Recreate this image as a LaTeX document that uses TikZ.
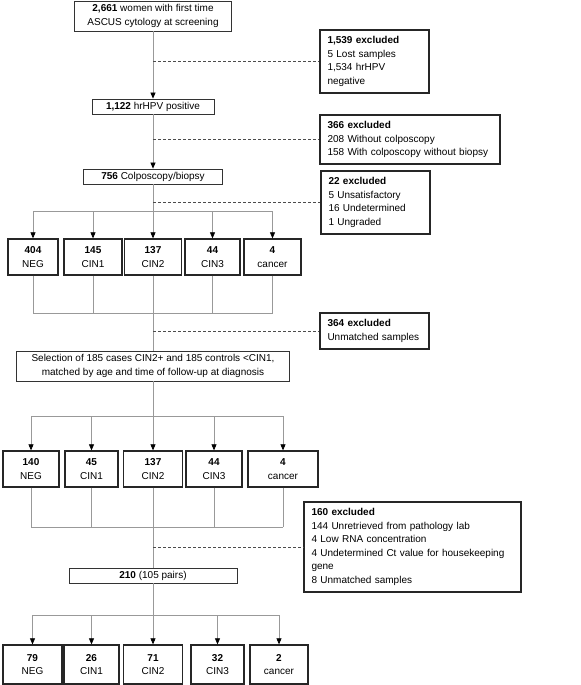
\documentclass[tikz,border=0pt]{standalone}
\usepackage{fontspec}
\setmainfont{Liberation Sans}
\usetikzlibrary{arrows.meta}

\begin{document}
\begin{tikzpicture}[x=1bp,y=-1bp,
  every node/.style={font=\fontsize{10bp}{13.5bp}\selectfont,inner sep=0pt},
  flowbox/.style={draw=black!80,line width=0.8pt,minimum height=15bp,align=center},
  gradebox/.style={draw=black!85,line width=1.3pt,minimum height=36bp,align=center},
  exclbox/.style={draw=black!85,line width=1.3pt,align=left,inner xsep=7.5bp},
  link/.style={draw=black!40,line width=0.7pt},
  arr/.style={link,-{Triangle[width=5bp,length=6bp,color=black]}},
  excl/.style={draw=black!70,line width=0.6pt,dash pattern=on 3bp off 2bp}]
\fill[white] (0,0) rectangle (581,685);
\useasboundingbox (0,0) rectangle (581,685);
% main column
\node[flowbox,minimum width=157bp,minimum height=30bp] (top) at (153,16) {\textbf{2,661} women with first time\\ASCUS cytology at screening};
\node[flowbox,minimum width=122bp] (hpv) at (153,106.5) {\textbf{1,122} hrHPV positive};
\node[flowbox,minimum width=139bp] (colpo) at (153,176.5) {\textbf{756} Colposcopy/biopsy};
\node[flowbox,minimum width=273bp,minimum height=30bp] (sel) at (153,366) {Selection of 185 cases CIN2+ and 185 controls <CIN1,\\matched by age and time of follow-up at diagnosis};
\node[flowbox,minimum width=168bp] (pairs) at (153,575.5) {\textbf{210} (105 pairs)};
% excluded
\node[exclbox,text width=94bp,minimum height=63bp] (ex1) at (374.5,61.5) {\textbf{1,539 excluded}\\5 Lost samples\\1,534 hrHPV\\negative};
\node[exclbox,text width=165bp,minimum height=49bp] (ex2) at (410,139.5) {\textbf{366 excluded}\\208 Without colposcopy\\158 With colposcopy without biopsy};
\node[exclbox,text width=94bp,minimum height=63bp] (ex3) at (375.5,202.5) {\textbf{22 excluded}\\5 Unsatisfactory\\16 Undetermined\\1 Ungraded};
\node[exclbox,text width=94bp,minimum height=36bp] (ex4) at (374.5,331) {\textbf{364 excluded}\\Unmatched samples};
\node[exclbox,text width=202bp,minimum height=90bp] (ex5) at (412.5,547) {\textbf{160 excluded}\\144 Unretrieved from pathology lab\\4 Low RNA concentration\\4 Undetermined Ct value for housekeeping\\gene\\8 Unmatched samples};
% first grading
\node[gradebox,minimum width=50bp] (a1) at (33,257) {\textbf{404}\\NEG};
\node[gradebox,minimum width=58bp] (a2) at (93,257) {\textbf{145}\\CIN1};
\node[gradebox,minimum width=57bp] (a3) at (153,257) {\textbf{137}\\CIN2};
\node[gradebox,minimum width=55bp] (a4) at (212.5,257) {\textbf{44}\\CIN3};
\node[gradebox,minimum width=57bp] (a5) at (272.5,257) {\textbf{4}\\cancer};
% matched
\node[gradebox,minimum width=56bp] (b1) at (31,469) {\textbf{140}\\NEG};
\node[gradebox,minimum width=53bp] (b2) at (91.5,469) {\textbf{45}\\CIN1};
\node[gradebox,minimum width=59bp] (b3) at (153,469) {\textbf{137}\\CIN2};
\node[gradebox,minimum width=56bp] (b4) at (214,469) {\textbf{44}\\CIN3};
\node[gradebox,minimum width=70bp] (b5) at (283,469) {\textbf{4}\\cancer};
% analysed
\node[gradebox,minimum width=59bp,minimum height=39bp] (c1) at (32.5,664.5) {\textbf{79}\\NEG};
\node[gradebox,minimum width=55bp,minimum height=39bp] (c2) at (91.5,664.5) {\textbf{26}\\CIN1};
\node[gradebox,minimum width=59bp,minimum height=39bp] (c3) at (153,664.5) {\textbf{71}\\CIN2};
\node[gradebox,minimum width=53bp,minimum height=39bp] (c4) at (217.5,664.5) {\textbf{32}\\CIN3};
\node[gradebox,minimum width=58bp,minimum height=39bp] (c5) at (279,664.5) {\textbf{2}\\cancer};
\coordinate (split1) at (153,211);
\coordinate (merge1) at (153,313);
\coordinate (split2) at (153,416);
\coordinate (merge2) at (153,527);
\coordinate (split3) at (153,615);
% connectors
\draw[arr] (top) -- (hpv);
\draw[arr] (hpv) -- (colpo);
\draw[link] (colpo) -- (split1);
\draw[link] (split1 -| a1) -- (split1 -| a5);
\foreach \n in {a1,a2,a3,a4,a5} {
  \draw[arr] (split1 -| \n) -- (\n);
  \draw[link] (\n) -- (merge1 -| \n);
}
\draw[link] (merge1 -| a1) -- (merge1 -| a5);
\draw[link] (merge1) -- (sel);
\draw[link] (sel) -- (split2);
\draw[link] (split2 -| b1) -- (split2 -| b5);
\foreach \n in {b1,b2,b3,b4,b5} {
  \draw[arr] (split2 -| \n) -- (\n);
  \draw[link] (\n) -- (merge2 -| \n);
}
\draw[link] (merge2 -| b1) -- (merge2 -| b5);
\draw[link] (merge2) -- (pairs);
\draw[link] (pairs) -- (split3);
\draw[link] (split3 -| c1) -- (split3 -| c5);
\foreach \n in {c1,c2,c3,c4,c5}
  \draw[arr] (split3 -| \n) -- (\n);
% exclusions
\draw[excl] (ex1.west -| top) -- (ex1);
\draw[excl] (ex2.west -| top) -- (ex2);
\draw[excl] (ex3.west -| top) -- (ex3);
\draw[excl] (ex4.west -| top) -- (ex4);
\draw[excl] (ex5.west -| top) -- (ex5);
\end{tikzpicture}
\end{document}
